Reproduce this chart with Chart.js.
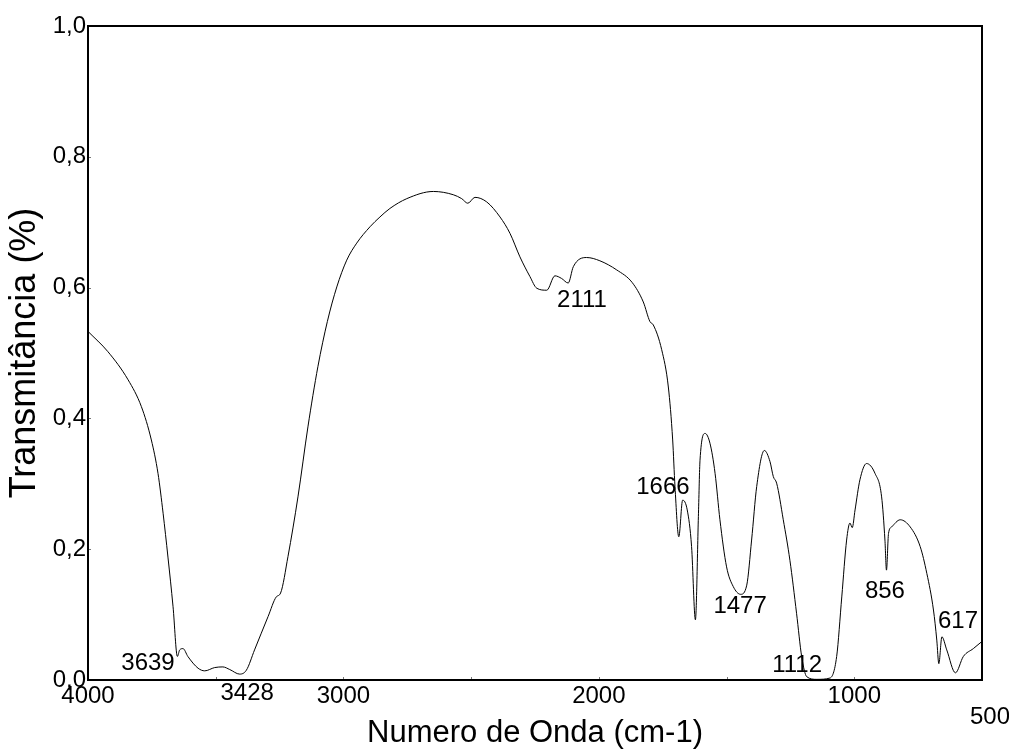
<!DOCTYPE html>
<html>
<head>
<meta charset="utf-8">
<script src="https://cdn.jsdelivr.net/npm/chart.js@4"></script>
<style>
  body { margin: 0; background: #fff; }
  canvas { display: block; }
</style>
</head>
<body>
<canvas id="irChart" width="1009" height="749"></canvas>
<script>
// Spectrum (cm-1, transmittance)
const waveNumbers = [
  4000, 3922, 3843, 3791, 3752, 3726, 3706, 3687, 3667, 3650, 3641, 3628, 3609,
  3569, 3543, 3504, 3472, 3445, 3406, 3380, 3348, 3295, 3263, 3246, 3217, 3178,
  3139, 3100, 3063, 3026, 2987, 2948, 2896, 2857, 2818, 2752, 2648, 2570, 2537,
  2513, 2485, 2439, 2387, 2348, 2309, 2270, 2243, 2204, 2172, 2146, 2120, 2100,
  2048, 1996, 1930, 1870, 1826, 1800, 1787, 1754, 1728, 1711, 1702, 1687, 1672,
  1654, 1637, 1622, 1610, 1604, 1584, 1565, 1545, 1526, 1500, 1474, 1445, 1421,
  1402, 1382, 1352, 1330, 1317, 1304, 1278, 1252, 1226, 1206, 1186, 1147, 1095,
  1069, 1049, 1030, 1017, 1008, 997, 978, 952, 919, 893, 880, 874, 866, 854,
  820, 781, 742, 716, 690, 677, 669, 657, 638, 604, 573, 534, 500
];
const transmittance = [
  0.533, 0.502, 0.459, 0.418, 0.367, 0.316, 0.255, 0.188, 0.112, 0.036, 0.046, 0.048, 0.036,
  0.018, 0.014, 0.019, 0.020, 0.016, 0.009, 0.015, 0.046, 0.097, 0.127, 0.133, 0.189, 0.280,
  0.387, 0.479, 0.548, 0.601, 0.642, 0.668, 0.693, 0.708, 0.721, 0.736, 0.747, 0.742, 0.736,
  0.729, 0.738, 0.731, 0.708, 0.683, 0.647, 0.617, 0.599, 0.596, 0.618, 0.614, 0.607, 0.632,
  0.646, 0.641, 0.627, 0.608, 0.578, 0.548, 0.543, 0.505, 0.448, 0.367, 0.296, 0.219, 0.275,
  0.260, 0.204, 0.092, 0.255, 0.336, 0.377, 0.362, 0.316, 0.245, 0.173, 0.143, 0.131, 0.145,
  0.214, 0.296, 0.351, 0.334, 0.311, 0.301, 0.245, 0.183, 0.102, 0.036, 0.005, 0.001, 0.003,
  0.036, 0.127, 0.214, 0.240, 0.233, 0.260, 0.306, 0.331, 0.316, 0.280, 0.214, 0.168, 0.224, 0.234,
  0.245, 0.234, 0.204, 0.163, 0.107, 0.061, 0.025, 0.066, 0.046, 0.011, 0.036, 0.048, 0.059
];

// Peak labels, placed where they sit in the picture (data coords of text centre)
const peakLabels = ["3639", "3428", "2111", "1666", "1477", "1112", "856", "617"];
const peakLabelX = [3765, 3377, 2066, 1749, 1447, 1224, 880, 594];
const peakLabelY = [0.026, -0.020, 0.581, 0.294, 0.113, 0.023, 0.135, 0.090];

const xTickLabels = [4000, 3000, 2000, 1000];
const lastXLabel = "500";

const fontFamily = "'Liberation Sans', Arial, sans-serif";

// frame, inner tick marks and text labels
const decorations = {
  id: "decorations",
  afterDatasetsDraw(chart) {
    const { ctx, chartArea: a, scales: { x, y } } = chart;
    ctx.save();
    ctx.strokeStyle = "#777";
    ctx.lineWidth = 1;
    for (let v = 3500; v > 500; v -= 500) {
      const px = Math.round(x.getPixelForValue(v)) + 0.5;
      ctx.beginPath();
      ctx.moveTo(px, a.bottom);
      ctx.lineTo(px, a.bottom - 3);
      ctx.stroke();
    }
    for (let v = 0.2; v < 1; v += 0.2) {
      const py = Math.round(y.getPixelForValue(v)) + 0.5;
      ctx.beginPath();
      ctx.moveTo(a.left, py);
      ctx.lineTo(a.left + 3, py);
      ctx.stroke();
    }
    ctx.strokeStyle = "#000";
    ctx.lineWidth = 2;
    ctx.strokeRect(a.left, a.top, a.right - a.left, a.bottom - a.top);

    ctx.fillStyle = "#000";
    ctx.font = "24px " + fontFamily;
    ctx.textAlign = "center";
    ctx.textBaseline = "middle";
    peakLabels.forEach((t, i) => {
      ctx.fillText(t, x.getPixelForValue(peakLabelX[i]), y.getPixelForValue(peakLabelY[i]));
    });
    ctx.fillText(lastXLabel, x.getPixelForValue(500) + 8, a.bottom + 37);
    ctx.restore();
  }
};

new Chart(document.getElementById("irChart"), {
  type: "line",
  data: {
    datasets: [{
      data: waveNumbers.map((w, i) => ({ x: w, y: transmittance[i] })),
      borderColor: "#000",
      borderWidth: 1,
      pointRadius: 0,
      fill: false,
      cubicInterpolationMode: "monotone"
    }]
  },
  options: {
    responsive: false,
    animation: false,
    layout: { padding: { top: 26, right: 27, left: 0, bottom: 0 } },
    plugins: {
      legend: { display: false },
      tooltip: { enabled: false }
    },
    scales: {
      x: {
        type: "linear",
        min: 500,
        max: 4000,
        reverse: true,
        afterFit: s => { s.height = 69; },
        grid: { display: false, drawTicks: false },
        border: { display: false },
        ticks: {
          stepSize: 500,
          autoSkip: false,
          maxRotation: 0,
          padding: 2,
          color: "#000",
          font: { size: 24, family: fontFamily },
          callback: v => xTickLabels.includes(v) ? String(v) : ""
        },
        title: {
          display: true,
          text: "Numero de Onda (cm-1)",
          color: "#000",
          font: { size: 31, family: fontFamily },
          padding: { top: 0, bottom: -3 }
        }
      },
      y: {
        min: 0,
        max: 1,
        afterFit: s => { s.width = 88; },
        grid: { display: false, drawTicks: false },
        border: { display: false },
        ticks: {
          stepSize: 0.2,
          padding: 2,
          color: "#000",
          font: { size: 24, family: fontFamily },
          callback: v => v.toFixed(1).replace(".", ",")
        },
        title: {
          display: true,
          text: "Transmitância (%)",
          color: "#000",
          font: { size: 36, family: fontFamily },
          padding: { top: 3, bottom: 0 }
        }
      }
    }
  },
  plugins: [decorations]
});
</script>
</body>
</html>
